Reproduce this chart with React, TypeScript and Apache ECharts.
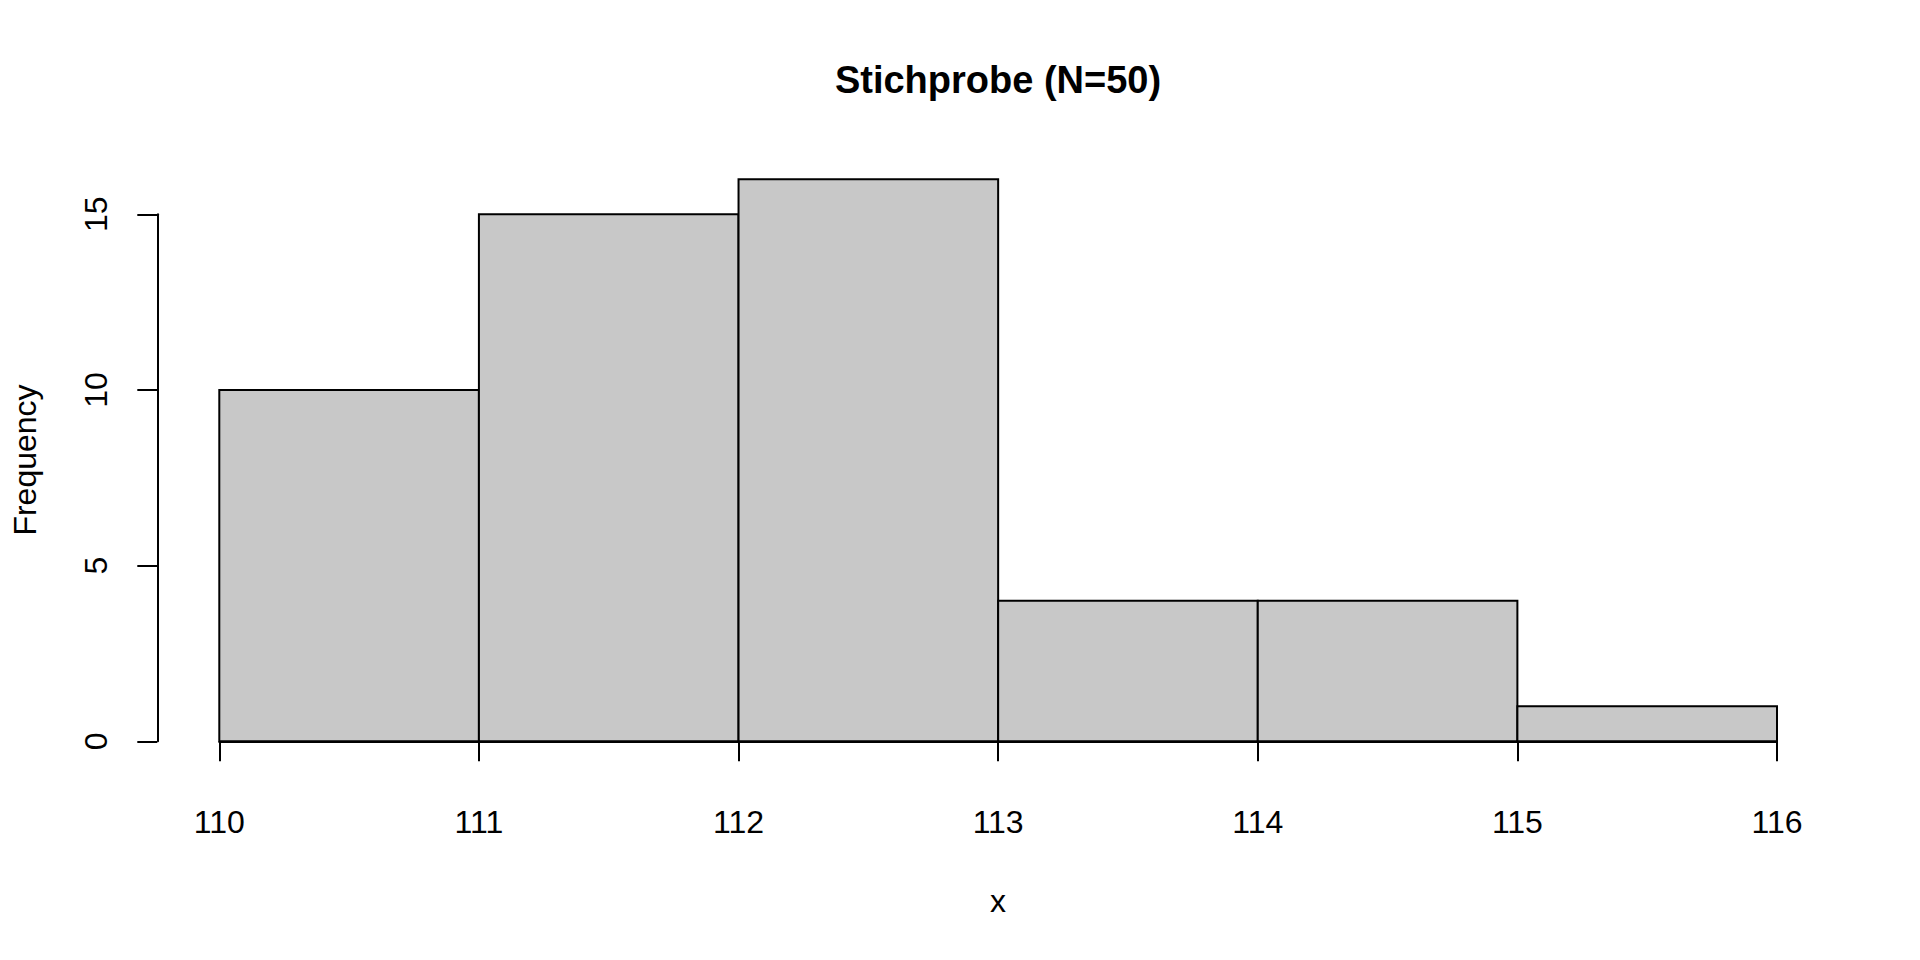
import React, { useEffect, useRef } from "react";
import * as echarts from "echarts";

const binEdges = [110, 111, 112, 113, 114, 115, 116];
const counts = [10, 15, 16, 4, 4, 1];
const titleText = "Stichprobe (N=50)";
const xLabel = "x";
const yLabel = "Frequency";

const FONT = "'Liberation Sans', Arial, Helvetica, sans-serif";

export default function App() {
  const ref = useRef<HTMLDivElement>(null);
  useEffect(() => {
    if (!ref.current) return;
    const chart = echarts.init(ref.current, undefined, { renderer: "svg" });
    const data = counts.map((c, i) => [binEdges[i], binEdges[i + 1], c]);
    const axisLabelStyle = { color: "#000", fontSize: 32, fontFamily: FONT };
    chart.setOption({
      animation: false,
      backgroundColor: "#fff",
      grid: [
        { left: 219.3, right: 143, top: 179.2, bottom: 218.7 },
        { left: 219.3, right: 143, top: 214.3, bottom: 218.7 },
      ],
      xAxis: [
        {
          type: "value",
          gridIndex: 0,
          min: 110,
          max: 116,
          interval: 1,
          offset: 23,
          axisLine: { show: true, lineStyle: { color: "#000", width: 2 } },
          axisTick: { show: true, length: 20, lineStyle: { color: "#000", width: 2 } },
          axisLabel: { ...axisLabelStyle, margin: 42 },
          splitLine: { show: false },
        },
        { type: "value", gridIndex: 1, min: 110, max: 116, show: false },
      ],
      yAxis: [
        { type: "value", gridIndex: 0, min: 0, max: 16, show: false },
        {
          type: "value",
          gridIndex: 1,
          min: 0,
          max: 15,
          interval: 5,
          offset: 62,
          axisLine: { show: true, lineStyle: { color: "#000", width: 2 } },
          axisTick: { show: true, length: 20, lineStyle: { color: "#000", width: 2 } },
          axisLabel: { ...axisLabelStyle, rotate: 90, margin: 45 },
          splitLine: { show: false },
        },
      ],
      graphic: [
        {
          type: "text",
          x: 998,
          y: 80,
          style: {
            text: titleText,
            fill: "#000",
            font: `bold 38px ${FONT}`,
            align: "center",
            verticalAlign: "middle",
          },
        },
        {
          type: "text",
          x: 998,
          y: 901,
          style: {
            text: xLabel,
            fill: "#000",
            font: `32px ${FONT}`,
            align: "center",
            verticalAlign: "middle",
          },
        },
        {
          type: "text",
          x: 25,
          y: 460,
          rotation: Math.PI / 2,
          style: {
            text: yLabel,
            fill: "#000",
            font: `32px ${FONT}`,
            align: "center",
            verticalAlign: "middle",
          },
        },
      ],
      series: [
        {
          type: "custom",
          xAxisIndex: 0,
          yAxisIndex: 0,
          data,
          renderItem: (params: any, api: any) => {
            const p0 = api.coord([api.value(0), api.value(2)]);
            const p1 = api.coord([api.value(1), 0]);
            return {
              type: "rect",
              shape: { x: p0[0], y: p0[1], width: p1[0] - p0[0], height: p1[1] - p0[1] },
              style: { fill: "#C8C8C8", stroke: "#000", lineWidth: 2 },
            };
          },
        },
      ],
    });
    return () => chart.dispose();
  }, []);
  return (
    <div
      ref={ref}
      style={{ position: "fixed", left: 0, top: 0, width: 1920, height: 960, background: "#fff" }}
    />
  );
}
